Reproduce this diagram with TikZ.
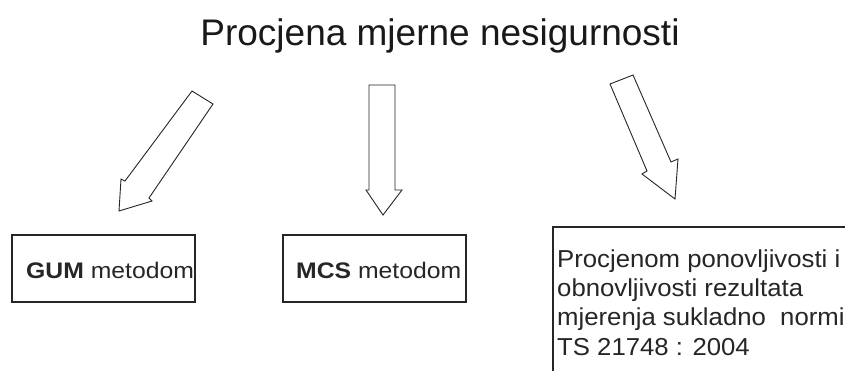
\documentclass[tikz,border=0pt]{standalone}
\usepackage{fontspec}
\setmainfont{Liberation Sans}
\newfontfamily\boxfont[FakeStretch=1.1]{Liberation Sans}
\newfontfamily\notefont[FakeStretch=1.05]{Liberation Sans}
\begin{document}
\begin{tikzpicture}[x=1pt,y=-1pt,
  blockarrow/.style={draw=black!85,line width=0.9pt,fill=white,line join=miter},
  methodbox/.style={draw=black!85,line width=1.2pt},
  methodtext/.style={anchor=base west,inner sep=0pt,font=\boxfont\fontsize{22.5}{27}\selectfont,text=black!85},
  notetext/.style={anchor=base west,inner sep=0pt,align=left,font=\notefont\fontsize{24.5}{29.3}\selectfont,text=black!85},
  titletext/.style={anchor=base,inner sep=0pt,font=\fontsize{37}{44}\selectfont,text=black!90}]
\useasboundingbox (0,0) rectangle (845,370);
\clip (0,0) rectangle (845,370);
\fill[white] (0,0) rectangle (845,370);
% title
\node[titletext] (title) at (440,45) {Procjena mjerne nesigurnosti};
% block arrows
\draw[blockarrow] (192,91) -- (213,104) -- (149,198) -- (152,201) -- (119,211) -- (121,179) -- (125,181) -- cycle;
\draw[blockarrow] (369,85) -- (395,85) -- (395,190) -- (402,190) -- (383,215) -- (366,190) -- (369,190) -- cycle;
\draw[blockarrow] (610,84) -- (633,75) -- (671,162) -- (678,159) -- (675,199) -- (642,174) -- (647,171) -- cycle;
% boxes
\draw[methodbox] (12,235) rectangle (195,302);
\node[methodtext] (gum) at (26,278) {\textbf{GUM} metodom};
\draw[methodbox] (283,235) rectangle (466,302);
\node[methodtext] (mcs) at (296,278) {\textbf{MCS} metodom};
\draw[methodbox] (553,227) rectangle (860,390);
\node[notetext] (note) at (557,355) {Procjenom ponovljivosti i\\obnovljivosti rezultata\\mjerenja sukladno\ \ normi\\TS 21748 : 2004};
\end{tikzpicture}
\end{document}
